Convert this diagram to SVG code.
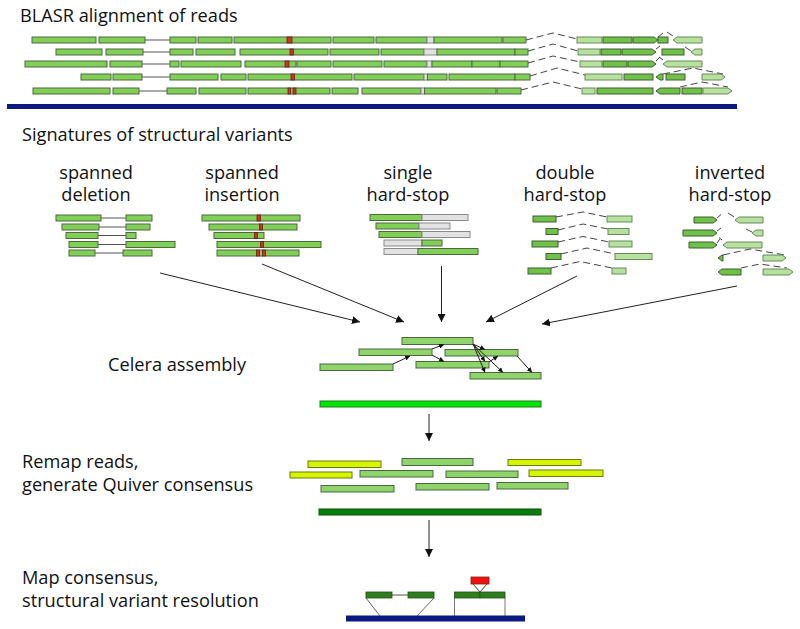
<svg xmlns="http://www.w3.org/2000/svg" width="800" height="629" viewBox="0 0 800 629">
<defs>
<style>
text{font-family:"Open Sans","Noto Sans","DejaVu Sans",sans-serif;font-size:18.2px;fill:#111}
.r{fill:#82cf58;stroke:#4b6a3e;stroke-width:1}
.m{fill:#6fc148;stroke:#3e5f32;stroke-width:1}
.l{fill:#b6e19e;stroke:#6a8a5a;stroke-width:1}
.g{fill:#e2e2e2;stroke:#8a8a8a;stroke-width:1}
.x{fill:#cc3322;stroke:#6e1c14;stroke-width:0.8}
.ln{stroke:#555;stroke-width:1;fill:none}
.d{stroke:#444;stroke-width:1;fill:none;stroke-dasharray:7 4}
.c{fill:#8ed46a;stroke:#4a6a3e;stroke-width:1}
.y{fill:#d6f500;stroke:#6b7a10;stroke-width:1}
.a{stroke:#222;stroke-width:1;fill:none}
</style>
<marker id="ah" viewBox="0 0 10 10" refX="10" refY="5" markerWidth="8" markerHeight="8" orient="auto" markerUnits="userSpaceOnUse"><path d="M0,0 L10,5 L0,10 z" fill="#111"/></marker>
<marker id="as" viewBox="0 0 10 10" refX="10" refY="5" markerWidth="5" markerHeight="5" orient="auto" markerUnits="userSpaceOnUse"><path d="M0,0 L10,5 L0,10 z" fill="#111"/></marker>
</defs>
<rect width="800" height="629" fill="#fff"/>

<g id="blasr">
<text x="20" y="22" font-size="19.2">BLASR alignment of reads</text>
<!-- row 1 -->
<rect class="r" x="32" y="37" width="64" height="6"/><rect class="r" x="99" y="37" width="46" height="6"/>
<line class="ln" x1="145" y1="40" x2="170" y2="40"/>
<rect class="r" x="170" y="37" width="26" height="6"/><rect class="r" x="198" y="37" width="34" height="6"/>
<rect class="r" x="234" y="37" width="97" height="6"/><rect class="x" x="287" y="37" width="5" height="6"/>
<rect class="r" x="333" y="37" width="41" height="6"/><rect class="r" x="376" y="37" width="51" height="6"/>
<rect class="g" x="427" y="37" width="7" height="6"/><rect class="r" x="434" y="37" width="68" height="6"/>
<rect class="r" x="503" y="37" width="23" height="6"/>
<polyline class="d" points="526,40 553,33 577,39"/>
<rect class="l" x="577" y="37" width="25" height="6"/><rect class="m" x="603" y="37" width="29" height="6"/>
<polygon class="m" points="633,37 654,37 658,40 654,43 633,43"/>
<rect class="m" x="658" y="37" width="10" height="6"/>
<line class="d" x1="658" y1="37" x2="663" y2="33"/><line class="d" x1="667" y1="32" x2="676" y2="38"/>
<polygon class="l" points="673,40 677,37 702,37 702,43 677,43"/>
<!-- row 2 -->
<rect class="r" x="56" y="49" width="46" height="6"/><rect class="r" x="106" y="49" width="37" height="6"/>
<line class="ln" x1="143" y1="52" x2="170" y2="52"/>
<rect class="r" x="170" y="49" width="23" height="6"/><rect class="r" x="196" y="49" width="39" height="6"/>
<rect class="r" x="240" y="49" width="88" height="6"/><rect class="x" x="290" y="49" width="3.5" height="6"/>
<rect class="r" x="330" y="49" width="49" height="6"/><rect class="r" x="381" y="49" width="43" height="6"/>
<rect class="g" x="424" y="49" width="13" height="6"/><rect class="r" x="437" y="49" width="78" height="6"/>
<rect class="r" x="515" y="49" width="13" height="6"/>
<polyline class="d" points="528,51 553,44 578,51"/>
<rect class="l" x="578" y="49" width="22" height="6"/><rect class="m" x="601" y="49" width="20" height="6"/>
<polygon class="m" points="622,49 652,49 656,52 652,55 622,55"/>
<rect class="m" x="662" y="49" width="22" height="6"/>
<line class="d" x1="656" y1="49" x2="660" y2="46"/><line class="d" x1="685" y1="47" x2="691" y2="51"/>
<polygon class="l" points="691,52 695,49 702,49 702,55 695,55"/>
<!-- row 3 -->
<rect class="r" x="25" y="61" width="82" height="6"/><rect class="r" x="110" y="61" width="32" height="6"/>
<line class="ln" x1="142" y1="64" x2="170" y2="64"/>
<rect class="r" x="170" y="61" width="9" height="6"/><rect class="r" x="181" y="61" width="60" height="6"/>
<rect class="r" x="245" y="61" width="51" height="6"/><rect class="x" x="285" y="61" width="4" height="6"/>
<rect class="r" x="297" y="61" width="34" height="6"/><rect class="r" x="333" y="61" width="49" height="6"/>
<rect class="r" x="384" y="61" width="43" height="6"/><rect class="g" x="427" y="61" width="5" height="6"/>
<rect class="r" x="432" y="61" width="40" height="6"/><rect class="r" x="472" y="61" width="28" height="6"/>
<rect class="r" x="500" y="61" width="28" height="6"/>
<polyline class="d" points="528,63 553,56 580,62"/>
<rect class="l" x="580" y="61" width="22" height="6"/><rect class="m" x="603" y="61" width="24" height="6"/>
<polygon class="m" points="628,61 652,61 656,64 652,67 628,67"/>
<line class="d" x1="656" y1="61" x2="660" y2="57"/><line class="d" x1="663" y1="60" x2="659" y2="57"/>
<polygon class="l" points="663,64 667,61 702,61 702,67 667,67"/>
<!-- row 4 -->
<rect class="r" x="81" y="74" width="30" height="6"/><rect class="r" x="113" y="74" width="29" height="6"/>
<line class="ln" x1="142" y1="77" x2="170" y2="77"/>
<rect class="r" x="170" y="74" width="48" height="6"/><rect class="r" x="221" y="74" width="25" height="6"/>
<rect class="r" x="248" y="74" width="104" height="6"/><rect class="x" x="291" y="74" width="3.5" height="6"/>
<rect class="r" x="354" y="74" width="70" height="6"/><rect class="g" x="424" y="74" width="3.5" height="6"/>
<rect class="r" x="427.5" y="74" width="19.5" height="6"/><rect class="r" x="449" y="74" width="66" height="6"/>
<rect class="r" x="515" y="74" width="15" height="6"/>
<polyline class="d" points="530,76 557,68 585,75"/>
<rect class="l" x="585" y="74" width="37" height="6"/><rect class="m" x="624" y="74" width="29" height="6"/>
<polygon class="m" points="656,77 660,74 663,74 663,80 660,80"/>
<rect class="m" x="666" y="74" width="19" height="6"/>
<polyline class="d" points="663,74 693,68 723,74"/>
<polygon class="l" points="702,74 721,74 725,77 721,80 702,80"/>
<!-- row 5 -->
<rect class="r" x="33" y="88" width="77" height="6"/><rect class="r" x="113" y="88" width="26" height="6"/>
<line class="ln" x1="139" y1="91" x2="167" y2="91"/>
<rect class="r" x="167" y="88" width="29" height="6"/><rect class="r" x="199" y="88" width="47" height="6"/>
<rect class="r" x="248" y="88" width="82" height="6"/><rect class="x" x="288" y="88" width="2.5" height="6"/><rect class="x" x="293" y="88" width="3" height="6"/>
<rect class="r" x="332" y="88" width="26" height="6"/><rect class="r" x="362" y="88" width="59" height="6"/>
<rect class="g" x="421" y="88" width="3.5" height="6"/><rect class="r" x="424.5" y="88" width="71.5" height="6"/>
<rect class="r" x="497" y="88" width="24" height="6"/>
<polyline class="d" points="521,90 553,82 582,89"/>
<rect class="l" x="582" y="88" width="13" height="6"/><rect class="m" x="597" y="88" width="56" height="6"/>
<polygon class="m" points="656,91 660,88 680,88 680,94 660,94"/>
<rect class="m" x="682" y="88" width="20" height="6"/>
<polyline class="d" points="680,87 702,82 728,87"/>
<polygon class="l" points="703,88 728,88 732,91 728,94 703,94"/>
<rect x="7" y="104" width="730" height="5" fill="#0b1a80"/>
</g>

<text x="22" y="141">Signatures of structural variants</text>

<g id="sig-deletion">
<text x="96" y="179" text-anchor="middle">spanned</text>
<text x="96" y="201" text-anchor="middle">deletion</text>
<rect class="r" x="56" y="215" width="45" height="6"/><line class="ln" x1="101" y1="218" x2="126" y2="218"/><rect class="r" x="126" y="215" width="26" height="6"/>
<rect class="r" x="62" y="224" width="37" height="6"/><line class="ln" x1="99" y1="227" x2="126" y2="227"/><rect class="r" x="126" y="224" width="24" height="6"/>
<rect class="r" x="66" y="232.5" width="32" height="6"/><line class="ln" x1="98" y1="235.5" x2="126" y2="235.5"/><rect class="r" x="126" y="232.5" width="10" height="6"/>
<rect class="r" x="69" y="241.5" width="29" height="6"/><line class="ln" x1="98" y1="244.5" x2="126" y2="244.5"/><rect class="r" x="126" y="241.5" width="49" height="6"/>
<rect class="r" x="69" y="250" width="26" height="6"/><line class="ln" x1="95" y1="253" x2="123" y2="253"/><rect class="r" x="123" y="250" width="29" height="6"/>
</g>

<g id="sig-insertion">
<text x="242" y="179" text-anchor="middle">spanned</text>
<text x="242" y="201" text-anchor="middle">insertion</text>
<rect class="r" x="202" y="215" width="98" height="6"/><rect class="x" x="257" y="215" width="3.5" height="6"/>
<rect class="r" x="209" y="224" width="88" height="6"/><rect class="x" x="259.5" y="224" width="3" height="6"/>
<rect class="r" x="214" y="232.5" width="50" height="6"/><rect class="x" x="254.5" y="232.5" width="3" height="6"/>
<rect class="r" x="217" y="241.5" width="104" height="6"/><rect class="x" x="260.5" y="241.5" width="3" height="6"/>
<rect class="r" x="217" y="250" width="82" height="6"/><rect class="x" x="256.5" y="250" width="3" height="6"/><rect class="x" x="262.5" y="250" width="3" height="6"/>
</g>

<g id="sig-single">
<text x="408" y="179" text-anchor="middle">single</text>
<text x="408" y="201" text-anchor="middle">hard-stop</text>
<rect class="r" x="370" y="214.5" width="52" height="6"/><rect class="g" x="422" y="214.5" width="46" height="6"/>
<rect class="r" x="376" y="223" width="43" height="6"/><rect class="g" x="419" y="223" width="31" height="6"/>
<rect class="r" x="379" y="231.5" width="43" height="6"/><rect class="g" x="422" y="231.5" width="48" height="6"/>
<rect class="g" x="384" y="240" width="38" height="6"/><rect class="r" x="422" y="240" width="20" height="6"/>
<rect class="g" x="384" y="248.5" width="34" height="6"/><rect class="r" x="418" y="248.5" width="60" height="6"/>
</g>

<g id="sig-double">
<text x="565" y="179" text-anchor="middle">double</text>
<text x="565" y="201" text-anchor="middle">hard-stop</text>
<rect class="m" x="533" y="216" width="23" height="6"/><polyline class="d" points="556,217 583,212 607,217"/><rect class="l" x="607" y="216" width="25" height="6"/>
<rect class="m" x="546" y="228.5" width="12" height="6"/><polyline class="d" points="558,230 583,224 608,229"/><rect class="l" x="608" y="228.5" width="21" height="6"/>
<rect class="m" x="532" y="241" width="26" height="6"/><polyline class="d" points="558,242 583,236.5 609,242"/><rect class="l" x="609" y="241" width="23" height="6"/>
<rect class="m" x="546" y="253.5" width="15" height="6"/><polyline class="d" points="561,254 587,248 615,254"/><rect class="l" x="615" y="253.5" width="37" height="6"/>
<rect class="m" x="528" y="268" width="23" height="6"/><polyline class="d" points="551,268 580,261.5 612,268"/><rect class="l" x="612" y="268" width="14" height="6"/>
</g>

<g id="sig-inverted">
<text x="730" y="179" text-anchor="middle">inverted</text>
<text x="730" y="201" text-anchor="middle">hard-stop</text>
<polygon class="m" points="694,217 713,217 717,220 713,223 694,223"/>
<line class="d" x1="717" y1="218" x2="721" y2="214.5"/><line class="d" x1="728" y1="213" x2="735" y2="217.5"/>
<polygon class="l" points="735,220 739,217 763,217 763,223 739,223"/>
<polygon class="m" points="683,230 713,230 717,233 713,236 683,236"/>
<line class="d" x1="717" y1="231" x2="721" y2="228"/><line class="d" x1="746" y1="229" x2="752" y2="232"/>
<polygon class="l" points="752,233 756,230 763,230 763,236 756,236"/>
<polygon class="m" points="689,242 713,242 717,245 713,248 689,248"/>
<line class="d" x1="717" y1="243" x2="720" y2="239"/><line class="d" x1="722" y1="240" x2="719" y2="237.5"/>
<polygon class="l" points="723,245 727,242 762,242 762,248 727,248"/>
<polygon class="m" points="718,258 722,255 723,255 723,261 722,261"/>
<polyline class="d" points="723,255 750,249 785,255"/>
<polygon class="l" points="763,255 782,255 786,258 782,261 763,261"/>
<polygon class="m" points="718,272 722,269 741,269 741,275 722,275"/>
<polyline class="d" points="741,268 760,264 787,268"/>
<polygon class="l" points="763,269 789,269 793,272 789,275 763,275"/>
</g>

<g id="celera">
<text x="108" y="371">Celera assembly</text>
<rect class="c" x="402" y="337.5" width="71" height="7"/>
<rect class="c" x="359" y="349" width="73" height="6.5"/>
<rect class="c" x="445" y="349.5" width="73" height="6.5"/>
<rect class="c" x="320" y="364" width="73" height="6.5"/>
<rect class="c" x="416" y="361.5" width="73" height="6.5"/>
<rect class="c" x="470" y="372.5" width="71" height="6.5"/>
<rect x="320" y="401" width="221" height="6" fill="#00e400" stroke="#1f7a1f" stroke-width="1"/>
</g>

<g id="remap">
<text x="22" y="468">Remap reads,</text>
<text x="22" y="491">generate Quiver consensus</text>
<rect class="y" x="308" y="461" width="73" height="6.5"/>
<rect class="y" x="290" y="472" width="62" height="6"/>
<rect class="c" x="402" y="458.5" width="71" height="7"/>
<rect class="y" x="508" y="459.5" width="73" height="6"/>
<rect class="c" x="360" y="470.5" width="73" height="6.5"/>
<rect class="c" x="446" y="471" width="72" height="6.5"/>
<rect class="y" x="529" y="470" width="74" height="6.5"/>
<rect class="c" x="321" y="485.5" width="73" height="6.5"/>
<rect class="c" x="416" y="483.5" width="73" height="6.5"/>
<rect class="c" x="497" y="482.5" width="71" height="6.5"/>
<rect x="319" y="509" width="222" height="6" fill="#0a7d0a" stroke="#06500a" stroke-width="1"/>
</g>

<g id="resolution">
<text x="22" y="584">Map consensus,</text>
<text x="22" y="607">structural variant resolution</text>
<line x1="366" y1="598" x2="380" y2="616" stroke="#666" stroke-width="1"/>
<line x1="434" y1="598" x2="417" y2="616" stroke="#666" stroke-width="1"/>
<line x1="454.5" y1="598" x2="454.5" y2="616" stroke="#777" stroke-width="1"/>
<line x1="505" y1="598" x2="505" y2="616" stroke="#777" stroke-width="1"/>
<line x1="392" y1="595" x2="408" y2="595" stroke="#555" stroke-width="1"/>
<rect x="366" y="592" width="26" height="6" fill="#2f7d1e" stroke="#1d5212" stroke-width="0.8"/>
<rect x="408" y="592" width="26" height="6" fill="#2f7d1e" stroke="#1d5212" stroke-width="0.8"/>
<rect x="454.5" y="592" width="25.5" height="6" fill="#2f7d1e" stroke="#1d5212" stroke-width="0.8"/>
<rect x="480" y="592" width="25" height="6" fill="#2f7d1e" stroke="#1d5212" stroke-width="0.8"/>
<polyline points="473,584 480,592 487,584" fill="none" stroke="#444" stroke-width="1"/>
<rect x="471" y="577" width="18" height="7" fill="#ee1111" stroke="#8a1a1a" stroke-width="0.8"/>
<rect x="346" y="615.5" width="179" height="6" fill="#0b1a80"/>
</g>

<g id="connectors">
<line class="a" x1="160" y1="273" x2="360" y2="322" marker-end="url(#ah)"/>
<line class="a" x1="262" y1="264" x2="404" y2="322" marker-end="url(#ah)"/>
<line class="a" x1="441.5" y1="266" x2="441.5" y2="322" marker-end="url(#ah)"/>
<line class="a" x1="577" y1="276" x2="486" y2="322" marker-end="url(#ah)"/>
<line class="a" x1="737" y1="286" x2="542" y2="324" marker-end="url(#ah)"/>
<line class="a" x1="393" y1="364" x2="410" y2="356" marker-end="url(#as)"/>
<line class="a" x1="432" y1="349" x2="444" y2="344.5" marker-end="url(#as)"/>
<line class="a" x1="432" y1="355" x2="444" y2="361.5" marker-end="url(#as)"/>
<line class="a" x1="473" y1="344" x2="485" y2="349.5" marker-end="url(#as)"/>
<line class="a" x1="473" y1="344" x2="485" y2="361.5" marker-end="url(#as)"/>
<line class="a" x1="473" y1="344" x2="485" y2="372.5" marker-end="url(#as)"/>
<line class="a" x1="473" y1="344" x2="503" y2="372.5" marker-end="url(#as)"/>
<line class="a" x1="489" y1="362" x2="498" y2="356" marker-end="url(#as)"/>
<line class="a" x1="517" y1="356" x2="532" y2="372.5" marker-end="url(#as)"/>
<line class="a" x1="429" y1="414" x2="429" y2="441" marker-end="url(#ah)"/>
<line class="a" x1="429" y1="520" x2="429" y2="557" marker-end="url(#ah)"/>
</g>
</svg>
